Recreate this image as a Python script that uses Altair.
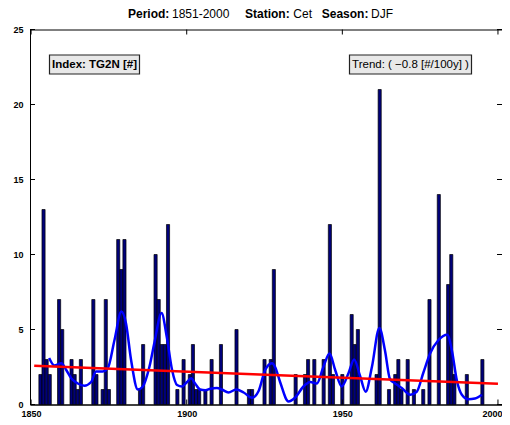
import altair as alt
import pandas as pd

# ---- data ----
bar_years = [1853, 1854, 1855, 1856, 1859, 1860, 1863, 1864, 1865, 1866, 1870, 1871,
             1873, 1874, 1875, 1878, 1879, 1880, 1885, 1886, 1890, 1891, 1892, 1893,
             1894, 1897, 1899, 1901, 1902, 1903, 1904, 1906, 1908, 1911, 1916, 1920,
             1921, 1925, 1927, 1928, 1935, 1938, 1939, 1941, 1944, 1946, 1947, 1950,
             1953, 1954, 1955, 1961, 1962, 1965, 1967, 1968, 1969, 1971, 1973, 1976,
             1978, 1981, 1984, 1985, 1986, 1990, 1995]
bar_counts = [2, 13, 3, 2, 7, 5, 3, 2, 1, 3, 7, 2,
              1, 7, 1, 11, 9, 11, 1, 4, 10, 7, 4, 4,
              12, 1, 3, 2, 4, 1, 1, 1, 3, 4, 5, 1,
              1, 3, 3, 9, 2, 2, 3, 3, 3, 12, 2, 2,
              6, 4, 5, 2, 21, 1, 2, 3, 1, 3, 1, 1,
              7, 14, 8, 10, 2, 2, 3]

smooth_years = [1855.8, 1857.5, 1859.7, 1861.3, 1862.9, 1865.0, 1867.1, 1869.3, 1870.9,
                1873.0, 1874.6, 1876.8, 1879.0, 1880.5, 1882.1, 1884.3, 1885.9, 1888.0,
                1889.7, 1891.9, 1893.6, 1895.3, 1896.9, 1898.5, 1900.1, 1901.4, 1902.7,
                1904.3, 1906.0, 1907.6, 1909.7, 1911.3, 1913.4, 1915.9, 1918.3, 1921.0,
                1923.1, 1925.2, 1927.4, 1928.4, 1930.0, 1932.7, 1934.8, 1937.5, 1939.7,
                1941.8, 1943.9, 1945.9, 1947.7, 1949.8, 1952.0, 1953.8, 1955.7, 1957.5,
                1959.5, 1961.9, 1963.7, 1965.3, 1967.0, 1969.1, 1971.8, 1973.9, 1976.0,
                1978.2, 1980.9, 1983.7, 1985.2, 1986.8, 1988.4, 1990.5, 1992.6, 1994.8]
smooth_vals = [3.1, 2.6, 2.75, 2.3, 1.75, 1.4, 1.25, 1.5, 2.2,
               2.2, 2.4, 4.3, 6.2, 5.4, 3.0, 1.0, 1.2, 2.5,
               4.2, 6.1, 4.5, 2.3, 1.3, 1.2, 1.5, 1.75, 1.4,
               1.0, 0.95, 1.05, 1.1, 1.0, 0.8, 1.0, 0.8, 0.45,
               0.9, 2.3, 2.75, 2.5, 1.5, 0.2, 0.45, 1.2, 1.5,
               1.4, 2.5, 3.4, 2.3, 1.2, 2.1, 3.0, 1.9, 0.85,
               2.5, 5.1, 3.6, 1.7, 1.4, 1.1, 0.65, 0.85, 2.1,
               3.4, 4.3, 4.65, 3.6, 1.6, 0.65, 0.35, 0.4, 0.65]

trend_years = [1851, 2000]
trend_vals = [2.58, 1.39]

x_ticks = [1850, 1900, 1950, 2000]
y_ticks = [0, 5, 10, 15, 20, 25]

title_parts = [("Period:", True), ("1851-2000", False), ("Station:", True),
               ("Cet", False), ("Season:", True), ("DJF", False)]
index_label = "Index: TG2N [#]"
trend_label = "Trend: ( \u22120.8 [#/100y] )"

# ---- layout ----
W, H = 472, 375
FONT = "Liberation Sans"
TICK = 5

bars_df = pd.DataFrame({"year": bar_years, "count": bar_counts})
smooth_df = pd.DataFrame({"year": smooth_years, "val": smooth_vals})
trend_df = pd.DataFrame({"year": trend_years, "val": trend_vals})
xt_df = pd.DataFrame({"t": x_ticks})
yt_df = pd.DataFrame({"t": y_ticks})

xscale = alt.Scale(domain=[1849.65, 2001.3], nice=False, zero=False)
yscale = alt.Scale(domain=[0, 25], nice=False, zero=True)

xaxis = alt.Axis(values=x_ticks, format="d", title=None, grid=False, tickSize=0,
                 labelPadding=5, labelFont=FONT, labelFontSize=9, labelFontWeight="bold",
                 labelColor="black", domainColor="black",
                 labelOffset={"condition": {"test": "datum.value == 2000", "value": -6},
                              "value": 0})
yaxis = alt.Axis(values=y_ticks, format="d", title=None, grid=False, tickSize=0,
                 labelPadding=7, labelFont=FONT, labelFontSize=9, labelFontWeight="bold",
                 labelColor="black", domainColor="black")

bars = alt.Chart(bars_df).transform_calculate(
    x0="datum.year - 0.5", x1="datum.year + 0.5"
).mark_bar(fill="#00007a", stroke="black", strokeWidth=0.7).encode(
    x=alt.X("x0:Q", scale=xscale, axis=xaxis),
    x2="x1:Q",
    y=alt.Y("count:Q", scale=yscale, axis=yaxis),
    y2=alt.datum(0),
)

smooth = alt.Chart(smooth_df).mark_line(color="#0000ff", strokeWidth=2.5,
                                        interpolate="monotone").encode(
    x=alt.X("year:Q", scale=xscale), y=alt.Y("val:Q", scale=yscale))

trend = alt.Chart(trend_df).mark_line(color="#ff0000", strokeWidth=2.5).encode(
    x=alt.X("year:Q", scale=xscale), y=alt.Y("val:Q", scale=yscale))

# inward ticks on all four sides
tick_layers = [
    alt.Chart(xt_df).mark_rule(color="black", strokeWidth=1).encode(
        x=alt.X("t:Q", scale=xscale), y=alt.value(H), y2=alt.value(H - TICK)),
    alt.Chart(xt_df).mark_rule(color="black", strokeWidth=1).encode(
        x=alt.X("t:Q", scale=xscale), y=alt.value(0), y2=alt.value(TICK)),
    alt.Chart(yt_df).mark_rule(color="black", strokeWidth=1).encode(
        y=alt.Y("t:Q", scale=yscale), x=alt.value(0), x2=alt.value(TICK)),
    alt.Chart(yt_df).mark_rule(color="black", strokeWidth=1).encode(
        y=alt.Y("t:Q", scale=yscale), x=alt.value(W), x2=alt.value(W - TICK)),
]

# annotation boxes
box_df = pd.DataFrame({"k": [0]})
index_box = alt.Chart(box_df).mark_rect(fill="#e8e8e8", stroke="#222222",
                                        strokeWidth=1.2).encode(
    x=alt.value(19.5), x2=alt.value(109.5), y=alt.value(25.5), y2=alt.value(44.5))
index_text = alt.Chart(box_df).mark_text(font=FONT, fontSize=11.5, fontWeight="bold",
                                         color="black", align="center",
                                         baseline="middle").encode(
    x=alt.value(64.5), y=alt.value(35.5), text=alt.value(index_label))
trend_box = alt.Chart(box_df).mark_rect(fill="#e8e8e8", stroke="#222222",
                                        strokeWidth=1.2).encode(
    x=alt.value(319.5), x2=alt.value(441.5), y=alt.value(25.5), y2=alt.value(44.5))
trend_text = alt.Chart(box_df).mark_text(font=FONT, fontSize=11.5, color="black",
                                         align="center", baseline="middle").encode(
    x=alt.value(380.5), y=alt.value(35.5), text=alt.value(trend_label))

# title built from bold / regular pieces
title_x = [98.0, 142.0, 215.0, 263.3, 291.7, 341.0]
title_layers = []
for (txt, bold), px in zip(title_parts, title_x):
    title_layers.append(
        alt.Chart(box_df).mark_text(font=FONT, fontSize=12,
                                    fontWeight="bold" if bold else "normal",
                                    color="black", align="left",
                                    baseline="alphabetic").encode(
            x=alt.value(px), y=alt.value(-12), text=alt.value(txt)))

chart = alt.layer(
    bars, smooth, trend, *tick_layers, index_box, index_text, trend_box, trend_text,
    *title_layers
).properties(
    width=W, height=H,
    autosize=alt.AutoSizeParams(type="none"),
    padding={"left": 22, "top": 21.5, "right": 0, "bottom": 17},
    background="white",
).configure_view(stroke="black", strokeWidth=1)

chart.save("out.html", embed_options={"renderer": "svg", "actions": False})
